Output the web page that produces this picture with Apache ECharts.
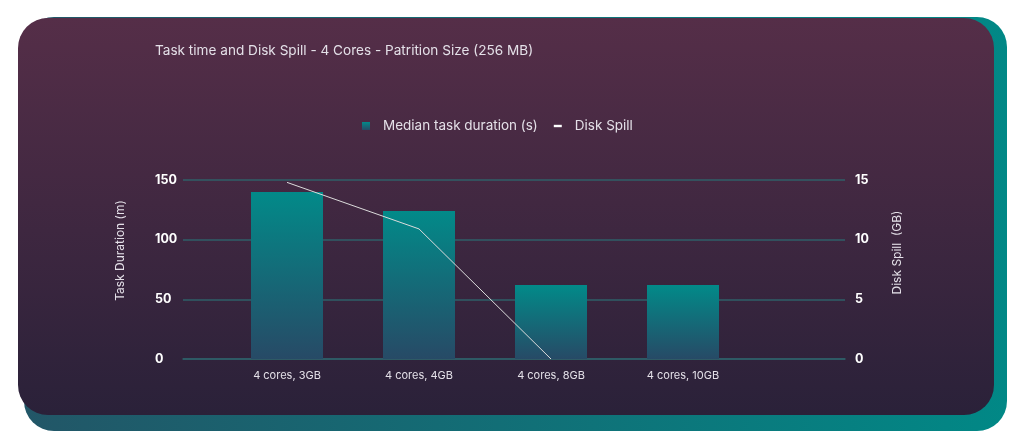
<!DOCTYPE html>
<html>
<head>
<meta charset="utf-8">
<script src="https://cdn.jsdelivr.net/npm/echarts@6/dist/echarts.min.js"></script>
<style>
  html, body { margin: 0; padding: 0; background: #fff; }
  #chart { width: 1024px; height: 446px; }
</style>
</head>
<body>
<div id="chart"></div>
<script>
const categories = ["4 cores, 3GB", "4 cores, 4GB", "4 cores, 8GB", "4 cores, 10GB", ""];
const taskDuration = [140, 124, 62, 62, null];
const diskSpill = [14.8, 10.9, 0, null, null];
const leftTicks = { min: 0, max: 150, interval: 50 };
const rightTicks = { min: 0, max: 15, interval: 5 };

let myChart = echarts.init(document.getElementById("chart"));

const textColor = "#e4e0e8";
const gridColor = "#2f5f68";

let option = {
  textStyle: { fontFamily: "Inter" },
  graphic: [
    {
      type: "rect",
      z: -10,
      silent: true,
      shape: { x: 24, y: 17, width: 983, height: 414, r: 30 },
      style: {
        fill: new echarts.graphic.LinearGradient(0, 0, 1, 0, [
          { offset: 0, color: "#225667" },
          { offset: 1, color: "#018886" },
        ]),
      },
    },
    {
      type: "rect",
      z: -9,
      silent: true,
      shape: { x: 18, y: 18, width: 976, height: 397, r: 30 },
      style: {
        fill: new echarts.graphic.LinearGradient(0, 0, 0, 1, [
          { offset: 0, color: "#552e48" },
          { offset: 1, color: "#2a2139" },
        ]),
      },
    },
  ],
  title: {
    text: "Task time and Disk Spill - 4 Cores - Patrition Size (256 MB)",
    left: 150,
    top: 39,
    textStyle: { color: textColor, fontSize: 13.6, fontWeight: "normal" },
  },
  legend: {
    top: 114,
    left: 357,
    itemGap: 16,
    itemWidth: 8,
    itemHeight: 8,
    textStyle: { color: textColor, fontSize: 13.5, padding: [0, 0, 0, 8] },
    data: [
      { name: "Median task duration (s)", icon: "rect" },
      { name: "Disk Spill", icon: "path://M0,0h10v3h-10z", itemStyle: { color: "#ffffff" } },
    ],
  },
  // grid 0 carries the value axes and split lines, grid 1 the categories and marks
  grid: [
    { left: 183, right: 179, top: 180, bottom: 87 },
    { left: 221, right: 143, top: 180, bottom: 87 },
  ],
  xAxis: [
    {
      gridIndex: 0,
      type: "category",
      data: categories,
      axisLine: { show: true, lineStyle: { color: gridColor, width: 1.5 } },
      axisTick: { show: false },
      axisLabel: { show: false },
    },
    {
      gridIndex: 1,
      type: "category",
      data: categories,
      axisLine: { show: false },
      axisTick: { show: false },
      axisLabel: { color: textColor, fontSize: 11, margin: 11 },
    },
  ],
  yAxis: [
    {
      gridIndex: 0,
      type: "value",
      min: leftTicks.min,
      max: leftTicks.max,
      interval: leftTicks.interval,
      name: "Task Duration (m)",
      nameLocation: "middle",
      nameRotate: 90,
      nameGap: 57,
      nameTextStyle: { color: textColor, fontSize: 12, padding: [0, 0, 0, 38] },
      axisLine: { show: false },
      axisTick: { show: false },
      axisLabel: { color: "#ffffff", fontSize: 12.5, fontWeight: "bold", align: "left", margin: 28 },
      splitLine: { lineStyle: { color: gridColor, width: 1.5 } },
    },
    {
      gridIndex: 0,
      type: "value",
      position: "right",
      min: rightTicks.min,
      max: rightTicks.max,
      interval: rightTicks.interval,
      name: "Disk Spill  (GB)",
      nameLocation: "middle",
      nameRotate: 90,
      nameGap: 46,
      nameTextStyle: { color: textColor, fontSize: 12, padding: [0, 0, 0, 34] },
      axisLine: { show: false },
      axisTick: { show: false },
      axisLabel: { color: "#ffffff", fontSize: 12.5, fontWeight: "bold", margin: 10 },
      splitLine: { show: false },
    },
    {
      gridIndex: 1,
      type: "value",
      min: leftTicks.min,
      max: leftTicks.max,
      show: false,
    },
    {
      gridIndex: 1,
      type: "value",
      min: rightTicks.min,
      max: rightTicks.max,
      show: false,
    },
  ],
  series: [
    {
      name: "Median task duration (s)",
      type: "bar",
      xAxisIndex: 1,
      yAxisIndex: 2,
      data: taskDuration,
      barWidth: 72,
      itemStyle: {
        color: new echarts.graphic.LinearGradient(0, 0, 0, 1, [
          { offset: 0, color: "#028a89" },
          { offset: 1, color: "#274a66" },
        ]),
      },
    },
    {
      name: "Disk Spill",
      type: "line",
      xAxisIndex: 1,
      yAxisIndex: 3,
      data: diskSpill,
      showSymbol: false,
      symbol: "none",
      z: 5,
      lineStyle: { color: "#dcdcdc", width: 1 },
      itemStyle: { color: "#ffffff" },
    },
  ],
};

myChart.setOption(option);
</script>
</body>
</html>
